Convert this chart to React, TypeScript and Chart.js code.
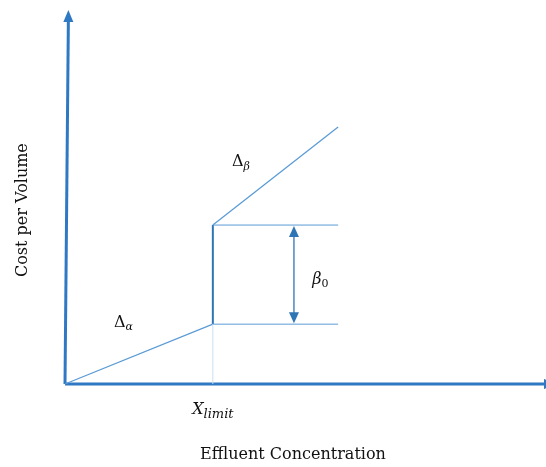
import React, { useEffect, useRef } from "react";
import { Chart, registerables } from "chart.js";

Chart.register(...registerables);

// ---- Data (conceptual units) ----
const X_MAX = 10;
const Y_MAX = 10;
const X_LIMIT = 3.08;
const X_END = 5.69;
const COST_AT_LIMIT_LOW = 1.6; // end of Δα segment
const COST_AT_LIMIT_HIGH = 4.25; // start of Δβ segment (low + β0)
const COST_AT_END = 6.87; // end of Δβ segment
const BETA_ARROW_X = 4.77;

const xAxisLine = [{ x: 0, y: 0 }, { x: 10, y: 0 }];
const yAxisLine = [{ x: 0, y: 0 }, { x: 0.07, y: 9.7 }];
const alphaSegment = [{ x: 0, y: 0 }, { x: X_LIMIT, y: COST_AT_LIMIT_LOW }];
const jumpSegment = [{ x: X_LIMIT, y: COST_AT_LIMIT_LOW }, { x: X_LIMIT, y: COST_AT_LIMIT_HIGH }];
const betaSegment = [{ x: X_LIMIT, y: COST_AT_LIMIT_HIGH }, { x: X_END, y: COST_AT_END }];
const upperRef = [{ x: X_LIMIT, y: COST_AT_LIMIT_HIGH }, { x: X_END, y: COST_AT_LIMIT_HIGH }];
const lowerRef = [{ x: X_LIMIT, y: COST_AT_LIMIT_LOW }, { x: X_END, y: COST_AT_LIMIT_LOW }];
const limitDrop = [{ x: X_LIMIT, y: 0 }, { x: X_LIMIT, y: COST_AT_LIMIT_LOW }];

const X_TITLE = "Effluent Concentration";
const Y_TITLE = "Cost per Volume";

const AXIS_COLOR = "#2E78C4";
const LINE_COLOR = "#5B9BD5";
const SERIF = "'DejaVu Serif', serif";

function mathText(ctx: CanvasRenderingContext2D, x: number, y: number, parts: { t: string; font: string; dy: number }[], align: "left" | "center") {
  let total = 0;
  for (const p of parts) { ctx.font = p.font; total += ctx.measureText(p.t).width; }
  let cx = align === "center" ? x - total / 2 : x;
  ctx.textAlign = "left";
  ctx.textBaseline = "alphabetic";
  for (const p of parts) {
    ctx.font = p.font;
    ctx.fillText(p.t, cx, y + p.dy);
    cx += ctx.measureText(p.t).width;
  }
}

const annotationPlugin = {
  id: "annotations",
  afterDatasetsDraw(chart: any) {
    const ctx: CanvasRenderingContext2D = chart.ctx;
    const xs = chart.scales.x, ys = chart.scales.y;
    const px = (v: number) => xs.getPixelForValue(v);
    const py = (v: number) => ys.getPixelForValue(v);
    ctx.save();
    // axis arrowheads
    ctx.fillStyle = AXIS_COLOR;
    const yTipX = px(0.07), yTipY = py(Y_MAX);
    ctx.beginPath();
    ctx.moveTo(yTipX, yTipY);
    ctx.lineTo(yTipX - 5, yTipY + 12);
    ctx.lineTo(yTipX + 5, yTipY + 12);
    ctx.closePath();
    ctx.fill();
    const xTipX = px(X_MAX) + 11, xTipY = py(0);
    ctx.beginPath();
    ctx.moveTo(xTipX, xTipY);
    ctx.lineTo(xTipX - 12, xTipY - 5);
    ctx.lineTo(xTipX - 12, xTipY + 5);
    ctx.closePath();
    ctx.fill();

    // β0 double arrow
    const ax = px(BETA_ARROW_X);
    const aTop = py(COST_AT_LIMIT_HIGH), aBot = py(COST_AT_LIMIT_LOW);
    ctx.strokeStyle = "#2E75B6";
    ctx.fillStyle = "#2E75B6";
    ctx.lineWidth = 1.3;
    ctx.beginPath();
    ctx.moveTo(ax, aTop + 8);
    ctx.lineTo(ax, aBot - 8);
    ctx.stroke();
    ctx.beginPath();
    ctx.moveTo(ax, aTop + 1);
    ctx.lineTo(ax - 5, aTop + 12);
    ctx.lineTo(ax + 5, aTop + 12);
    ctx.closePath();
    ctx.fill();
    ctx.beginPath();
    ctx.moveTo(ax, aBot - 1);
    ctx.lineTo(ax - 5, aBot - 12);
    ctx.lineTo(ax + 5, aBot - 12);
    ctx.closePath();
    ctx.fill();

    // labels
    ctx.fillStyle = "#111";
    mathText(ctx, px(1.02), py(1.52), [
      { t: "Δ", font: `16px ${SERIF}`, dy: 0 },
      { t: "α", font: `italic 11px ${SERIF}`, dy: 3 },
    ], "left");
    mathText(ctx, px(3.48), py(5.83), [
      { t: "Δ", font: `16px ${SERIF}`, dy: 0 },
      { t: "β", font: `italic 11px ${SERIF}`, dy: 4 },
    ], "left");
    mathText(ctx, px(5.15), py(2.67), [
      { t: "β", font: `italic 16px ${SERIF}`, dy: 0 },
      { t: "0", font: `11px ${SERIF}`, dy: 3 },
    ], "left");
    mathText(ctx, px(X_LIMIT), py(-0.8), [
      { t: "X", font: `italic 16px ${SERIF}`, dy: 0 },
      { t: "limit", font: `italic 13px ${SERIF}`, dy: 4 },
    ], "center");

    // axis titles
    ctx.font = `16px ${SERIF}`;
    ctx.textAlign = "center";
    ctx.textBaseline = "alphabetic";
    ctx.fillText(X_TITLE, px(4.75), py(-2.0));
    ctx.save();
    ctx.translate(px(-0.79), py(4.65));
    ctx.rotate(-Math.PI / 2);
    ctx.fillText(Y_TITLE, 0, 0);
    ctx.restore();
    ctx.restore();
  },
};

function line(data: any[], color: string, width: number) {
  return {
    data,
    showLine: true,
    borderColor: color,
    backgroundColor: color,
    borderWidth: width,
    pointRadius: 0,
    fill: false,
    tension: 0,
    clip: false,
  };
}

export default function App() {
  const ref = useRef<HTMLCanvasElement>(null);
  useEffect(() => {
    if (!ref.current) return;
    const chart = new Chart(ref.current, {
      type: "scatter",
      data: {
        datasets: [
          line(limitDrop, "#C9DEF1", 1),
          line(upperRef, LINE_COLOR, 1),
          line(lowerRef, LINE_COLOR, 1),
          line(alphaSegment, LINE_COLOR, 1.3),
          line(betaSegment, LINE_COLOR, 1.3),
          line(jumpSegment, "#2E75B6", 2),
          line(xAxisLine, AXIS_COLOR, 3),
          line(yAxisLine, AXIS_COLOR, 3),
        ] as any,
      },
      options: {
        animation: false,
        responsive: false,
        maintainAspectRatio: false,
        layout: { padding: { left: 65, right: 1, top: 10, bottom: 83 } },
        plugins: { legend: { display: false }, tooltip: { enabled: false } },
        scales: {
          x: { type: "linear", min: 0, max: X_MAX, display: false },
          y: { type: "linear", min: 0, max: Y_MAX, display: false },
        },
      },
      plugins: [annotationPlugin],
    });
    return () => chart.destroy();
  }, []);
  return (
    <div style={{ position: "absolute", left: 0, top: 0, width: 546, height: 467, background: "#fff" }}>
      <canvas ref={ref} width={546} height={467} />
    </div>
  );
}
